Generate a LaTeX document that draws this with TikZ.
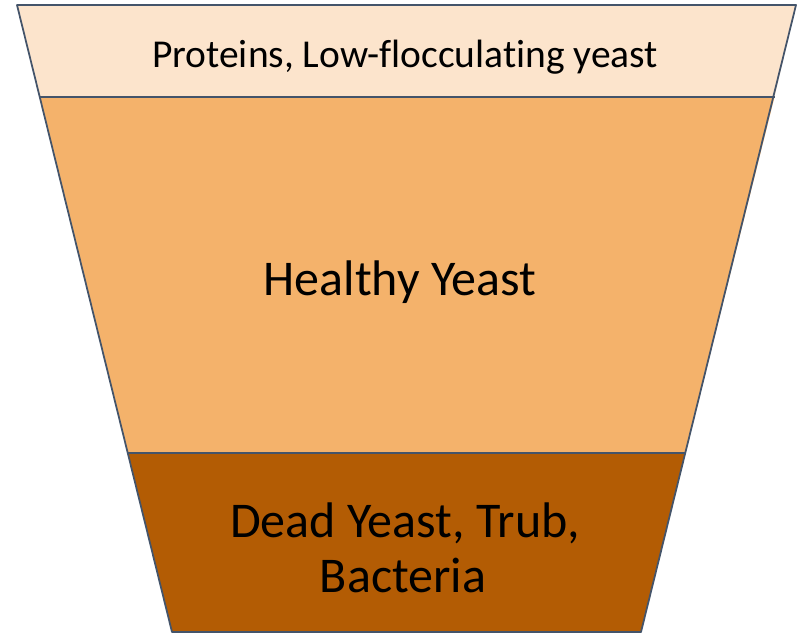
\documentclass[tikz,border=0pt]{standalone}
\usepackage{fontspec}
\setmainfont[Ligatures=CommonOff]{Carlito}
\definecolor{edge}{HTML}{44546A}
\definecolor{topfill}{HTML}{FCE4CC}
\definecolor{midfill}{HTML}{F4B26B}
\definecolor{botfill}{HTML}{B35C04}
\tikzset{
  band/.style={draw=edge, line width=1.75pt, line join=round},
  lbl/.style={text=black, inner sep=0pt, align=center}
}
\begin{document}
\begin{tikzpicture}[x=1pt,y=-1pt]
\useasboundingbox (0,0) rectangle (797,633);
\coordinate (tl) at (17,5);
\coordinate (tr) at (796,5);
\coordinate (ml1) at (39.5,97);
\coordinate (mr1) at (774.5,97);
\coordinate (ml2) at (128,453);
\coordinate (mr2) at (685.5,453);
\coordinate (bl) at (172,632);
\coordinate (br) at (641,632);
\fill[topfill] (tl) -- (tr) -- (mr1) -- (ml1) -- cycle;
\fill[midfill] (ml1) -- (mr1) -- (mr2) -- (ml2) -- cycle;
\fill[botfill] (ml2) -- (mr2) -- (br) -- (bl) -- cycle;
\draw[band] (tl) -- (tr) -- (br) -- (bl) -- cycle;
\draw[band] (ml1) -- (mr1);
\draw[band] (ml2) -- (mr2);
\node[lbl, font=\fontsize{39.5}{46}\selectfont, anchor=base] (t1) at (405,67) {Proteins, Low-flocculating yeast};
\node[lbl, font=\fontsize{50}{58}\selectfont, anchor=base] (t2) at (400,295) {Healthy Yeast};
\node[lbl, font=\fontsize{50}{55}\selectfont, anchor=base] (t3) at (405,537) {Dead Yeast, Trub,};
\node[lbl, font=\fontsize{50}{55}\selectfont, anchor=base] (t4) at (403,592) {Bacteria};
\end{tikzpicture}
\end{document}
